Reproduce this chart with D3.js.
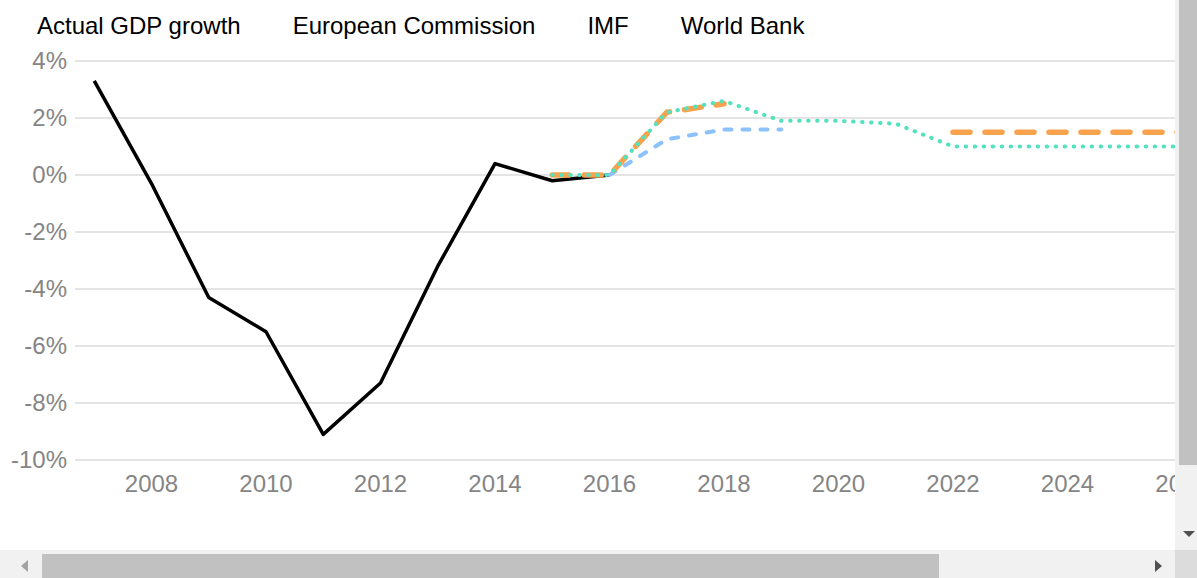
<html>
<head>
<title>GDP growth forecasts</title>
<script type="text/javascript" src="https://d3js.org/d3.v7.min.js"></script>
<style>
  body { margin: 0; overflow: hidden; background: #fff; font-family: "Liberation Sans", Arial, sans-serif; }
  #view { position: absolute; left: 0; top: 0; width: 1175px; height: 550px; overflow: hidden; }
  .bar { position: absolute; }
</style>
</head>
<body>
<div id="view"></div>
<!-- fake scrollbars, as in the screenshot -->
<div class="bar" style="left:1175px;top:0;width:22px;height:550px;background:#f1f1f1"></div>
<div class="bar" style="left:1179px;top:0;width:18px;height:465px;background:#c1c1c1"></div>
<div class="bar" style="left:1183px;top:531px;width:0;height:0;border-left:6px solid transparent;border-right:6px solid transparent;border-top:6px solid #505050"></div>
<div class="bar" style="left:0;top:550px;width:1175px;height:28px;background:#f1f1f1"></div>
<div class="bar" style="left:42px;top:554px;width:897px;height:24px;background:#c1c1c1"></div>
<div class="bar" style="left:21px;top:560px;width:0;height:0;border-top:6px solid transparent;border-bottom:6px solid transparent;border-right:7px solid #a3a3a3"></div>
<div class="bar" style="left:1155px;top:560px;width:0;height:0;border-top:6px solid transparent;border-bottom:6px solid transparent;border-left:7px solid #505050"></div>
<div class="bar" style="left:1175px;top:550px;width:22px;height:28px;background:#dcdcdc"></div>
<script>
// years on the x axis
var years = [2007, 2008, 2009, 2010, 2011, 2012, 2013, 2014, 2015, 2016,
             2017, 2018, 2019, 2020, 2021, 2022, 2023, 2024, 2025, 2026];

// % growth, null where a series has no value
var actual = [3.3, -0.3, -4.3, -5.5, -9.1, -7.3, -3.2, 0.4, -0.2, 0.0,
              null, null, null, null, null, null, null, null, null, null];
var europeanCommission = [null, null, null, null, null, null, null, null, 0.0, 0.0,
              2.2, 2.5, null, null, null, 1.5, 1.5, 1.5, 1.5, 1.5];
var imf = [null, null, null, null, null, null, null, null, 0.0, 0.0,
              2.2, 2.6, 1.9, 1.9, 1.8, 1.0, 1.0, 1.0, 1.0, 1.0];
var worldBank = [null, null, null, null, null, null, null, null, null, 0.0,
              1.25, 1.6, 1.6, null, null, null, null, null, null, null];

var legendNames = ["Actual GDP growth", "European Commission", "IMF", "World Bank"];
var yTicks = [4, 2, 0, -2, -4, -6, -8, -10];
var xTicks = [2008, 2010, 2012, 2014, 2016, 2018, 2020, 2022, 2024, 2026];

var svgWidth = 1460, svgHeight = 550;
var plotLeft = 75;

var svg = d3.select("#view").append("svg")
  .attr("width", svgWidth)
  .attr("height", svgHeight);

var x = d3.scaleLinear().domain([2007, 2024]).range([94.25, 1067.5]);
var y = d3.scaleLinear().domain([-10, 4]).range([460, 61]);

// gridlines
svg.append("g").selectAll("line").data(yTicks).enter()
  .append("line")
  .attr("x1", plotLeft).attr("x2", svgWidth)
  .attr("y1", function (d) { return y(d); })
  .attr("y2", function (d) { return y(d); })
  .attr("stroke", "#e4e4e4")
  .attr("stroke-width", 2);

// y labels
svg.append("g").selectAll("text").data(yTicks).enter()
  .append("text")
  .attr("x", 67)
  .attr("y", function (d) { return y(d); })
  .attr("dy", "0.35em")
  .attr("text-anchor", "end")
  .attr("fill", "#858585")
  .style("font-size", "24px")
  .text(function (d) { return d + "%"; });

// x labels
svg.append("g").selectAll("text").data(xTicks).enter()
  .append("text")
  .attr("x", function (d) { return x(d); })
  .attr("y", 492)
  .attr("text-anchor", "middle")
  .attr("fill", "#858585")
  .style("font-size", "24px")
  .text(function (d) { return d; });

function drawSeries(values, color, width, dash) {
  var line = d3.line()
    .defined(function (d) { return d != null; })
    .x(function (d, i) { return x(years[i]); })
    .y(function (d) { return y(d); });
  svg.append("path")
    .attr("d", line(values))
    .attr("fill", "none")
    .attr("stroke", color)
    .attr("stroke-width", width)
    .attr("stroke-dasharray", dash)
    .attr("stroke-linecap", dash ? "round" : "butt")
    .attr("stroke-linejoin", "round");
}

drawSeries(actual, "#000", 3.5, null);
drawSeries(worldBank, "#8cc1fb", 4, "7,11");
drawSeries(europeanCommission, "#f7a24c", 5.5, "17,15");
drawSeries(imf, "#52e2c0", 4, "0.5,8.5");

// legend (text only)
var lx = 37;
legendNames.forEach(function (name) {
  var t = svg.append("text")
    .attr("x", lx)
    .attr("y", 34)
    .attr("fill", "#000")
    .style("font-size", "24px")
    .text(name);
  lx += t.node().getComputedTextLength() + 52;
});
</script>
</body>
</html>
